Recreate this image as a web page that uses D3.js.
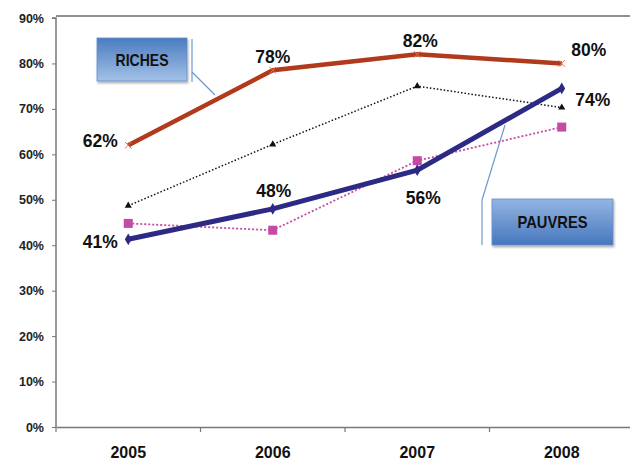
<!DOCTYPE html>
<html><head><meta charset="utf-8">
<script src="https://cdn.jsdelivr.net/npm/d3@7"></script>
<style>body{margin:0;background:#fff}svg{display:block}text{font-family:"Liberation Sans",Arial,sans-serif;font-weight:bold}</style>
</head><body><svg id="c" width="630" height="461"></svg>
<script>
const years = ["2005","2006","2007","2008"];
const riches = [62, 78.5, 82, 80];
const pauvres = [41.3, 48, 56.5, 74.5];
const blackDotted = [48.7, 62.2, 75, 70.3];
const pinkDotted = [44.8, 43.3, 58.6, 66];
const richesLabels = ["62%","78%","82%","80%"];
const pauvresLabels = ["41%","48%","56%","74%"];
const yTicks = [0,10,20,30,40,50,60,70,80,90];

const svg = d3.select("#c");
const L = 56, T = 18, B = 427, R = 634;
const x = d3.scaleBand().domain(years).range([L, R]).paddingInner(0).paddingOuter(0);
const y = d3.scaleLinear().domain([0, 90]).range([B, T]);
const cx = d => x(d) + x.bandwidth() / 2;

const defs = svg.append("defs");
const g1 = defs.append("linearGradient").attr("id","gR").attr("x1",0).attr("y1",0).attr("x2",0).attr("y2",1);
g1.append("stop").attr("offset","0%").attr("stop-color","#4a7cc0");
g1.append("stop").attr("offset","100%").attr("stop-color","#a3c1e6");
const g2 = defs.append("linearGradient").attr("id","gP").attr("x1",0).attr("y1",0).attr("x2",0).attr("y2",1);
g2.append("stop").attr("offset","0%").attr("stop-color","#93b5e2");
g2.append("stop").attr("offset","100%").attr("stop-color","#4777bd");
const sh = defs.append("filter").attr("id","sh").attr("x","-10%").attr("y","-10%").attr("width","130%").attr("height","140%");
sh.append("feDropShadow").attr("dx",1).attr("dy",2).attr("stdDeviation",1.2).attr("flood-color","#000").attr("flood-opacity",0.3);

// top border
svg.append("line").attr("x1",L).attr("x2",R).attr("y1",16).attr("y2",16).attr("stroke","#222").attr("stroke-width",1.2);

// y axis
const ya = svg.append("g").attr("transform",`translate(${L},0)`)
  .call(d3.axisLeft(y).tickValues(yTicks).tickFormat(d => d + "%").tickSize(4).tickPadding(8));
ya.select(".domain").attr("stroke","#777").attr("stroke-width",1.5).attr("d",`M-4,${T}H0V${B}`);
ya.selectAll(".tick line").attr("stroke","#777");
ya.selectAll(".tick text").attr("font-size",12.5).attr("fill","#222").style("font-family","Liberation Sans, Arial").style("font-weight","bold");

// x axis
const xa = svg.append("g").attr("transform",`translate(0,${B})`)
  .call(d3.axisBottom(x).tickSize(0).tickPadding(20));
xa.select(".domain").attr("stroke","#777").attr("stroke-width",1.5);
xa.selectAll(".tick text").attr("font-size",16).attr("fill","#111").style("font-family","Liberation Sans, Arial").style("font-weight","bold");
// boundary ticks
svg.append("g").selectAll("line").data(years.slice(1)).join("line")
  .attr("x1", d => x(d)).attr("x2", d => x(d)).attr("y1", B).attr("y2", B + 5)
  .attr("stroke","#777").attr("stroke-width",1.2);
svg.append("line").attr("x1",L).attr("x2",L).attr("y1",B).attr("y2",B+5).attr("stroke","#777").attr("stroke-width",1.2);

const line = d3.line().x((d,i) => cx(years[i])).y(d => y(d));

// black dotted
svg.append("path").datum(blackDotted).attr("d", line).attr("fill","none")
  .attr("stroke","#111").attr("stroke-width",1.5).attr("stroke-dasharray","1.5,2");
svg.append("g").selectAll("path").data(blackDotted).join("path")
  .attr("d", d3.symbol(d3.symbolTriangle, 22))
  .attr("transform",(d,i) => `translate(${cx(years[i])},${y(d)})`).attr("fill","#111");

// pink dotted
svg.append("path").datum(pinkDotted).attr("d", line).attr("fill","none")
  .attr("stroke","#c54aa3").attr("stroke-width",1.8).attr("stroke-dasharray","2,2");
svg.append("g").selectAll("rect").data(pinkDotted).join("rect")
  .attr("x",(d,i) => cx(years[i]) - 4.5).attr("y", d => y(d) - 4.5)
  .attr("width",9).attr("height",9).attr("fill","#c54aa3");

// riches
svg.append("path").datum(riches).attr("d", line).attr("fill","none")
  .attr("stroke","#b23a1c").attr("stroke-width",4.5);
svg.append("g").selectAll("path").data(riches).join("path")
  .attr("d", d3.symbol(d3.symbolX, 30))
  .attr("transform",(d,i) => `translate(${cx(years[i])},${y(d)})`).attr("stroke","#e0704a").attr("stroke-width",1).attr("fill","none");

// pauvres
svg.append("path").datum(pauvres).attr("d", line).attr("fill","none")
  .attr("stroke","#2c2a85").attr("stroke-width",5);
svg.append("g").selectAll("path").data(pauvres).join("path")
  .attr("d", d3.symbol(d3.symbolDiamond, 40))
  .attr("transform",(d,i) => `translate(${cx(years[i])},${y(d)})`).attr("fill","#2c2a85");

// data labels
const rOff = [[-28, 2],[0, -7],[3, -7],[27, -7]];
svg.append("g").selectAll("text").data(riches).join("text")
  .attr("x",(d,i) => cx(years[i]) + rOff[i][0]).attr("y",(d,i) => y(d) + rOff[i][1])
  .attr("text-anchor","middle").attr("font-size",19).attr("fill","#111")
  .attr("textLength",35).attr("lengthAdjust","spacingAndGlyphs")
  .text((d,i) => richesLabels[i]);
const pOff = [[-28, 9],[1, -12],[6, 34],[31, 18]];
svg.append("g").selectAll("text").data(pauvres).join("text")
  .attr("x",(d,i) => cx(years[i]) + pOff[i][0]).attr("y",(d,i) => y(d) + pOff[i][1])
  .attr("text-anchor","middle").attr("font-size",19).attr("fill","#111")
  .attr("textLength",35).attr("lengthAdjust","spacingAndGlyphs")
  .text((d,i) => pauvresLabels[i]);

// callouts
function callout(bx, by, bw, bh, grad, label, tw, vx, vy1, vy2, lx1, ly1, lx2, ly2) {
  svg.append("line").attr("x1",vx).attr("x2",vx).attr("y1",vy1).attr("y2",vy2).attr("stroke","#6f98cf").attr("stroke-width",1.2);
  svg.append("line").attr("x1",lx1).attr("y1",ly1).attr("x2",lx2).attr("y2",ly2).attr("stroke","#6f98cf").attr("stroke-width",1.2);
  svg.append("rect").attr("x",bx).attr("y",by).attr("width",bw).attr("height",bh)
    .attr("fill",`url(#${grad})`).attr("stroke","#5f8ccb").attr("stroke-width",0.8).attr("filter","url(#sh)");
  svg.append("text").attr("x",bx + bw/2).attr("y",by + bh/2 + 6).attr("text-anchor","middle")
    .attr("font-size",17).attr("fill","#111").attr("textLength",tw).attr("lengthAdjust","spacingAndGlyphs").text(label);
}
callout(97, 38, 90, 43, "gR", "RICHES", 53, 192, 39, 82, 192, 72, 215, 95);
callout(492, 199, 121, 46, "gP", "PAUVRES", 70, 482, 200, 245, 482, 200, 505, 125);
</script></body></html>
